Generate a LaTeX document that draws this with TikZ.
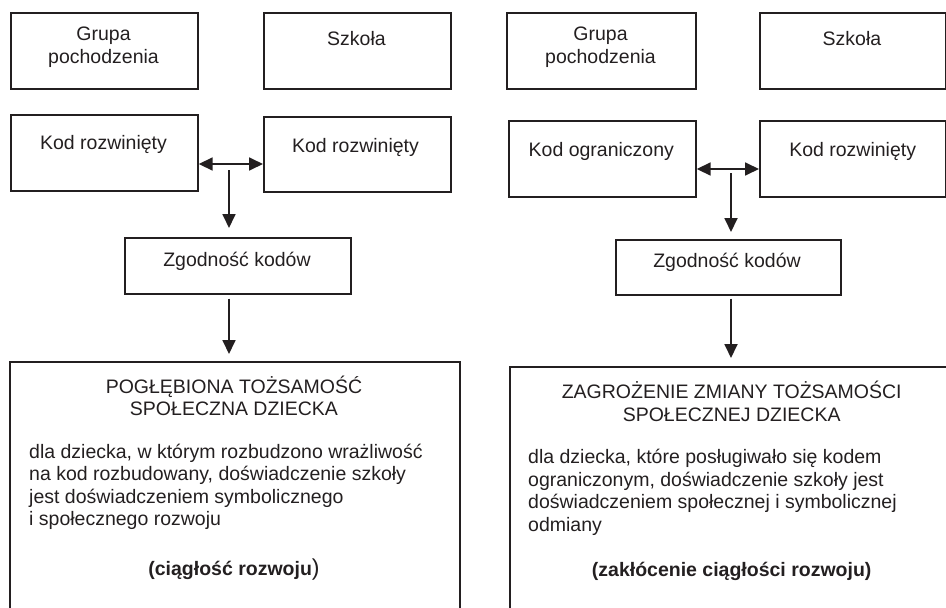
\documentclass[tikz,border=0pt]{standalone}
\usepackage{fontspec}
\setmainfont{Liberation Sans}
\usetikzlibrary{arrows.meta}
\definecolor{ink}{HTML}{231F20}
\tikzset{
  box/.style={draw=ink, line width=1.7pt, inner sep=0pt, anchor=north west},
  txt/.style={text=ink, inner sep=0pt, font=\fontsize{19.5}{22.5}\selectfont, anchor=base},
  arr/.style={draw=ink, line width=1.8pt, -{Triangle[length=14pt,width=13pt]}},
  darr/.style={draw=ink, line width=1.8pt, {Triangle[length=14pt,width=13pt]}-{Triangle[length=14pt,width=13pt]}},
}
\begin{document}
\begin{tikzpicture}[x=1pt,y=-1pt]
\useasboundingbox (0,0) rectangle (946,608);
\clip (0,0) rectangle (946,608);

% ---------- left panel ----------
\node[box, minimum width=187pt, minimum height=76pt] (g1) at (10,12) {};
\node[box, minimum width=187pt, minimum height=76pt] (s1) at (263,12) {};
\node[box, minimum width=187pt, minimum height=76pt] (k1) at (10,114) {};
\node[box, minimum width=187pt, minimum height=75pt] (k2) at (263,116) {};
\node[box, minimum width=226pt, minimum height=56pt] (z1) at (124,237) {};
\node[box, minimum width=450pt, minimum height=300pt] (b1) at (9,361) {};

% multi-line nodes: base anchor = baseline of the last line
\node[txt, align=center] (g1t) at (103.5,63.2) {Grupa\\pochodzenia};
\node[txt] (s1t) at (356.5,45.7) {Szkoła};
\node[txt] (k1t) at (103.5,149) {Kod rozwinięty};
\node[txt] (k2t) at (355.5,152) {Kod rozwinięty};
\node[txt] (z1t) at (237,266) {Zgodność kodów};
\node[txt, align=center] (b1h) at (234,415.5) {POGŁĘBIONA TOŻSAMOŚĆ\\SPOŁECZNA DZIECKA};
\node[txt, align=left, anchor=base west] (b1b) at (29,525.5) {dla dziecka, w którym rozbudzono wrażliwość\\na kod rozbudowany, doświadczenie szkoły\\jest doświadczeniem symbolicznego\\i społecznego rozwoju};
\node[txt] (b1c) at (234,575) {\textbf{(ciągłość rozwoju}{\fontsize{23}{23}\selectfont)}};

\draw[darr] (k1.east |- 0,164) -- (k2.west |- 0,164);
\coordinate (v1) at (229,170);
\draw[arr, shorten >=9pt] (v1) -- (v1 |- z1.north);
\draw[arr, shorten <=4pt, shorten >=7pt] (v1 |- z1.south) -- (v1 |- b1.north);

% ---------- right panel ----------
\node[box, minimum width=189pt, minimum height=76pt] (g2) at (506,12) {};
\node[box, minimum width=186pt, minimum height=76pt] (s2) at (759,12) {};
\node[box, minimum width=187pt, minimum height=76pt] (k3) at (508,120) {};
\node[box, minimum width=186pt, minimum height=76pt] (k4) at (759,120) {};
\node[box, minimum width=225pt, minimum height=55pt] (z2) at (615,239) {};
\node[box, minimum width=450pt, minimum height=300pt] (b2) at (509,366) {};

\node[txt, align=center] (g2t) at (600.5,63.2) {Grupa\\pochodzenia};
\node[txt] (s2t) at (852,45.7) {Szkoła};
\node[txt] (k3t) at (601.3,156) {Kod ograniczony};
\node[txt] (k4t) at (852.7,156) {Kod rozwinięty};
\node[txt] (z2t) at (727,267) {Zgodność kodów};
\node[txt, align=center] (b2h) at (731.7,421) {ZAGROŻENIE ZMIANY TOŻSAMOŚCI\\SPOŁECZNEJ DZIECKA};
\node[txt, align=left, anchor=base west] (b2b) at (528,531.3) {dla dziecka, które posługiwało się kodem\\ograniczonym, doświadczenie szkoły jest\\doświadczeniem społecznej i symbolicznej\\odmiany};
\node[txt] (b2c) at (731.7,576) {\textbf{(zakłócenie ciągłości rozwoju)}};

\draw[darr] (k3.east |- 0,169) -- (k4.west |- 0,169);
\coordinate (v2) at (731,173);
\draw[arr, shorten >=7pt] (v2) -- (v2 |- z2.north);
\draw[arr, shorten <=3pt, shorten >=8pt] (v2 |- z2.south) -- (v2 |- b2.north);
\end{tikzpicture}
\end{document}
